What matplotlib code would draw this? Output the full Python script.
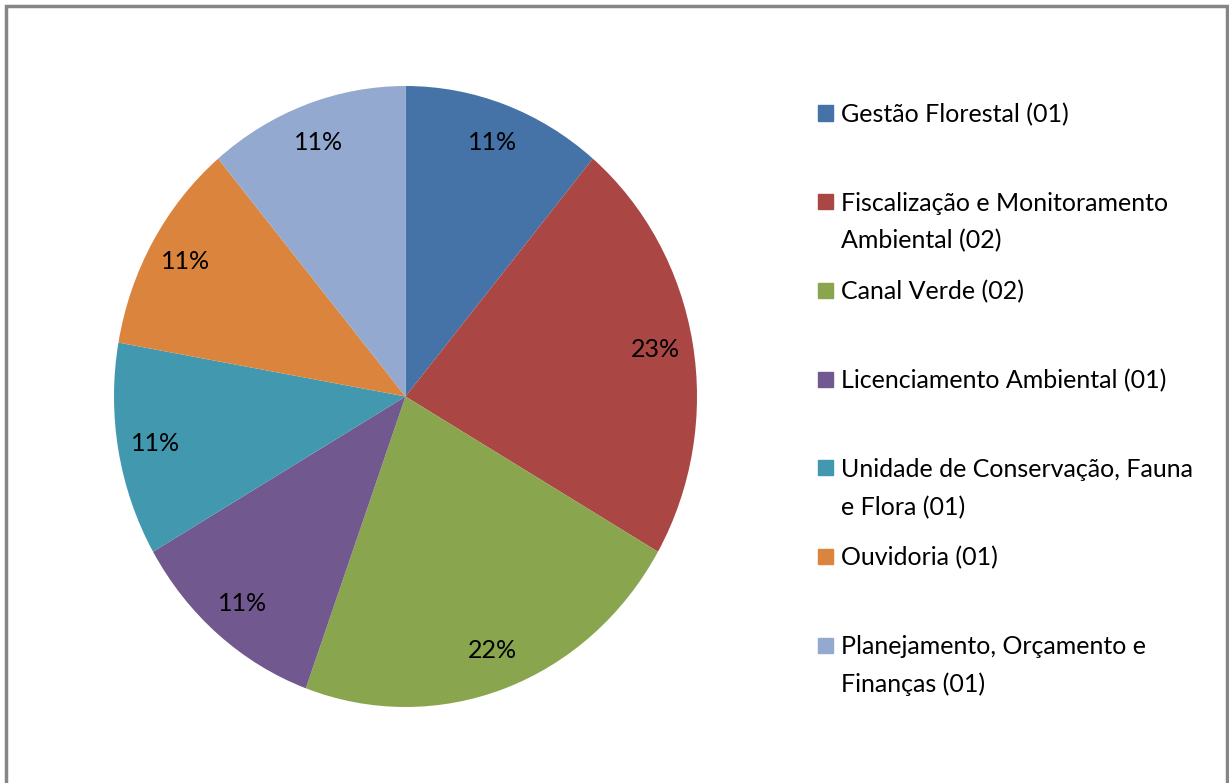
import matplotlib
matplotlib.use("Agg")
import matplotlib.pyplot as plt
import numpy as np
from matplotlib.patches import Rectangle

# data
categories = [
    "Gestão Florestal (01)",
    "Fiscalização e Monitoramento\nAmbiental (02)",
    "Canal Verde (02)",
    "Licenciamento Ambiental (01)",
    "Unidade de Conservação, Fauna\ne Flora (01)",
    "Ouvidoria (01)",
    "Planejamento, Orçamento e\nFinanças (01)",
]
counts = [1, 2, 2, 1, 1, 1, 1]
pct_labels = ["11%", "23%", "22%", "11%", "11%", "11%", "11%"]
colors = ["#4572A7", "#AA4643", "#89A54E", "#71588F",
          "#4198AF", "#DB843D", "#93A9CF"]

plt.rcParams['font.family'] = ['Lato', 'DejaVu Sans']

W, H = 1229, 783
fig = plt.figure(figsize=(W / 100, H / 100), dpi=100)

# pie area (slightly stretched vertically like the original)
ax = fig.add_axes([114 / W, (H - 707) / H, 583 / W, 621 / H])
wedges, _ = ax.pie(counts, colors=colors, startangle=90, counterclock=False,
                   wedgeprops={'linewidth': 0})
ax.set_aspect('auto')
ax.set_xlim(-1, 1)
ax.set_ylim(-1, 1)
ax.axis('off')

# percentage labels placed inside each wedge
for w, lab in zip(wedges, pct_labels):
    ang = np.deg2rad((w.theta1 + w.theta2) / 2)
    ax.text(0.87 * np.cos(ang), 0.87 * np.sin(ang), lab,
            ha='center', va='center', fontsize=18, color='black')

# legend drawn by hand, one text per line so the line pitch matches
fs = 18
for i, (lab, c) in enumerate(zip(categories, colors)):
    y = H - (113 + i * 88.7)
    fig.patches.append(Rectangle((818 / W, (y - 7.5) / H), 15 / W, 15 / H,
                                 transform=fig.transFigure, color=c))
    for k, line in enumerate(lab.split("\n")):
        fig.text(841 / W, (y - 9 - k * 38) / H, line, ha='left',
                 va='baseline', fontsize=fs)

# outer border
fig.patches.append(Rectangle((6 / W, -0.05), (1227 - 6) / W, (H - 6) / H + 0.05,
                             transform=fig.transFigure, fill=False,
                             edgecolor='#868686', linewidth=2.5))

fig.savefig("out.png", dpi=100)
